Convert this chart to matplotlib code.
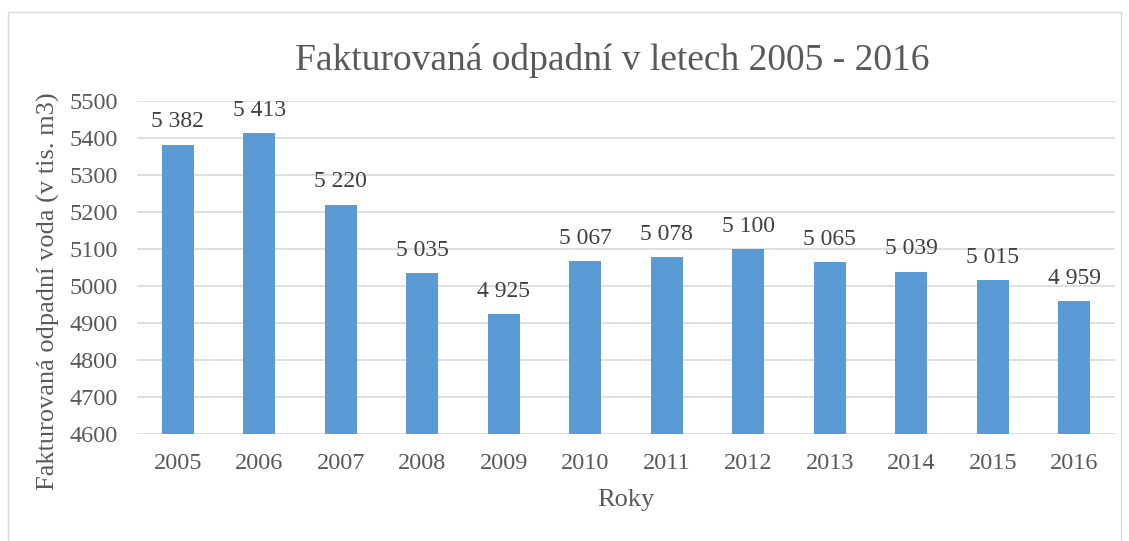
import matplotlib.pyplot as plt
import matplotlib.patches as mpatches
import numpy as np

years = ['2005', '2006', '2007', '2008', '2009', '2010', '2011', '2012', '2013', '2014', '2015', '2016']
values = [5382, 5413, 5220, 5035, 4925, 5067, 5078, 5100, 5065, 5039, 5015, 4959]

plt.rcParams['font.family'] = ['Liberation Serif', 'DejaVu Serif']
txt_color = '#595959'

fig = plt.figure(figsize=(11.29, 5.41), dpi=100)
W, H = 1129, 541
ax = fig.add_axes([137 / W, 1 - 434 / H, (1115 - 137) / W, (434 - 101) / H])

# chart border
fig.patches.append(mpatches.Rectangle((8 / W, -0.05), (1121 - 8) / W, 1 - 12 / H + 0.05,
                                      transform=fig.transFigure, fill=False,
                                      edgecolor='#D9D9D9', linewidth=1))

x = np.arange(len(years))
ax.bar(x, [v - 4600 for v in values], bottom=4600, width=0.39, color='#5B9BD5', zorder=3)
for xi, v in zip(x, values):
    lbl = f'{v:,}'.replace(',', ' ')
    ax.text(xi, v + 33, lbl, ha='center', va='bottom', fontsize=17, color='#404040')

ax.set_xlim(-0.5, len(years) - 0.5)
ax.set_ylim(4600, 5500)
ax.set_yticks(np.arange(4600, 5501, 100))
ax.set_xticks(x)
ax.set_xticklabels(years)
ax.tick_params(axis='both', length=0, labelsize=17.5, labelcolor=txt_color)
ax.tick_params(axis='x', pad=14)
ax.tick_params(axis='y', pad=14)
ax.yaxis.grid(True, color='#D9D9D9', linewidth=1.2, zorder=0)
for s in ax.spines.values():
    s.set_visible(False)

fig.text(612 / W, 1 - 60 / H, 'Fakturovaná odpadní v letech 2005 - 2016', ha='center', va='center',
         fontsize=27, color=txt_color)
fig.text(48 / W, 1 - 291 / H, 'Fakturovaná odpadní voda (v tis. m3)', ha='center', va='center',
         rotation=90, fontsize=19, color=txt_color)
fig.text(626 / W, 1 - 500 / H, 'Roky', ha='center', va='center', fontsize=19, color=txt_color)

plt.savefig('out.png', dpi=100)
